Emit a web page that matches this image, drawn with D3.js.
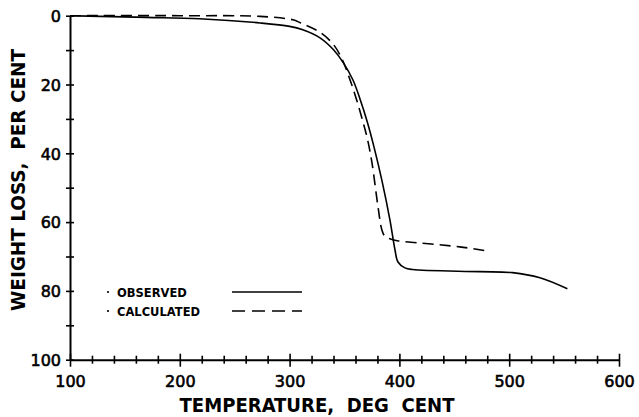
<!DOCTYPE html>
<html>
<head>
<meta charset="utf-8">
<script src="https://cdn.jsdelivr.net/npm/d3@7"></script>
<style>
  html, body { margin: 0; padding: 0; background: #fff; }
  svg { display: block; }
</style>
</head>
<body>
<svg id="chart" width="639" height="417"></svg>
<script>
// ---- Data ----
const observedTemp = [100, 127, 170, 218, 273, 300, 312, 328, 340, 349, 357.7, 364.1, 370.5, 376.9, 384.2, 391.4, 396, 398.7, 405, 412, 473, 503, 528, 553];
const observedLoss = [0, 0.2, 0.5, 0.9, 2.1, 3.1, 4.1, 6.5, 9.9, 13.7, 18.7, 24.2, 30.6, 38.2, 48.1, 59.4, 68.1, 71.6, 73.3, 73.8, 74.4, 74.7, 76.2, 79.4];
const calculatedTemp = [100, 200, 273, 303, 310, 328, 340, 348, 355, 361, 367, 371, 375, 380.5, 384, 387, 394, 398, 455, 478];
const calculatedLoss = [0, 0, 0.2, 1.2, 2.1, 4.9, 8.4, 12.8, 18.6, 24.4, 31.1, 36, 42.7, 55.5, 62.2, 64.2, 65.1, 65.4, 67.2, 68.3];
const xMajorTicks = [100, 200, 300, 400, 500, 600];
const xMinorTicks = [120, 140, 160, 180, 220, 240, 260, 280, 320, 340, 360, 380, 420, 440, 460, 480, 520, 540, 560, 580];
const yMajorTicks = [0, 20, 40, 60, 80, 100];
const yMinorTicks = [10, 30, 50, 70, 90];
const seriesNames = ["OBSERVED", "CALCULATED"];
const xTitle = "TEMPERATURE,  DEG  CENT";
const yTitle = "WEIGHT LOSS,  PER CENT";

// ---- Scales ----
const svg = d3.select("#chart");
const x = d3.scaleLinear().domain([100, 600]).range([70, 619]);
const y = d3.scaleLinear().domain([0, 100]).range([15.7, 359.7]);

const tickFont = "'DejaVu Sans', sans-serif";
const titleFont = "'DejaVu Sans Condensed', 'DejaVu Sans', sans-serif";

// ---- Y axis ----
const yAxisG = svg.append("g").attr("transform", `translate(${x(100)},0)`);
yAxisG.call(d3.axisLeft(y).tickValues(yMajorTicks).tickSizeOuter(0).tickSizeInner(4).tickFormat(d3.format("d")));
yAxisG.select(".domain").attr("stroke", "#000").attr("stroke-width", 2);
yAxisG.selectAll(".tick line").attr("x1", -4).attr("x2", 4).attr("stroke", "#000").attr("stroke-width", 1.6);
yAxisG.selectAll(".tick text")
  .attr("x", -9).attr("dy", "0.36em")
  .attr("font-family", tickFont).attr("font-size", 16).attr("fill", "#000")
  .attr("stroke", "#000").attr("stroke-width", 0.6);
const yMinorG = svg.append("g").attr("transform", `translate(${x(100)},0)`);
yMinorG.call(d3.axisLeft(y).tickValues(yMinorTicks).tickSizeOuter(0).tickSizeInner(4).tickFormat(""));
yMinorG.select(".domain").remove();
yMinorG.selectAll(".tick line").attr("x1", -4).attr("x2", 4).attr("stroke", "#000").attr("stroke-width", 1.6);

// ---- X axis ----
const xAxisG = svg.append("g").attr("transform", `translate(0,${y(100)})`);
xAxisG.call(d3.axisBottom(x).tickValues(xMajorTicks).tickSizeOuter(0).tickSizeInner(6).tickFormat(d3.format("d")));
xAxisG.select(".domain").attr("stroke", "#000").attr("stroke-width", 2);
xAxisG.selectAll(".tick line").attr("y1", -6).attr("y2", 7).attr("stroke", "#000").attr("stroke-width", 1.6);
xAxisG.selectAll(".tick text")
  .attr("y", 27).attr("dy", 0)
  .attr("font-family", tickFont).attr("font-size", 16).attr("fill", "#000")
  .attr("stroke", "#000").attr("stroke-width", 0.6);
const xMinorG = svg.append("g").attr("transform", `translate(0,${y(100)})`);
xMinorG.call(d3.axisBottom(x).tickValues(xMinorTicks).tickSizeOuter(0).tickSizeInner(4).tickFormat(""));
xMinorG.select(".domain").remove();
xMinorG.selectAll(".tick line").attr("y1", -4).attr("y2", 4).attr("stroke", "#000").attr("stroke-width", 1.6);

// ---- Axis titles ----
svg.append("text")
  .attr("x", 317).attr("y", 412)
  .attr("text-anchor", "middle")
  .attr("font-family", titleFont).attr("font-weight", "bold").attr("font-size", 19)
  .attr("textLength", 275).attr("lengthAdjust", "spacingAndGlyphs")
  .style("white-space", "pre")
  .text(xTitle);
svg.append("text")
  .attr("transform", "translate(25,180) rotate(-90)")
  .attr("text-anchor", "middle")
  .attr("font-family", titleFont).attr("font-weight", "bold").attr("font-size", 20)
  .attr("textLength", 262).attr("lengthAdjust", "spacingAndGlyphs")
  .style("white-space", "pre")
  .text(yTitle);

// ---- Lines ----
const line = d3.line().x(d => x(d[0])).y(d => y(d[1])).curve(d3.curveCatmullRom.alpha(0.5));
const obs = observedTemp.map((t, i) => [t, observedLoss[i]]);
const calc = calculatedTemp.map((t, i) => [t, calculatedLoss[i]]);
svg.append("path").datum(obs).attr("d", line)
  .attr("fill", "none").attr("stroke", "#000").attr("stroke-width", 1.6);
svg.append("path").datum(calc).attr("d", line)
  .attr("fill", "none").attr("stroke", "#000").attr("stroke-width", 1.6)
  .attr("stroke-dasharray", "11,6");

// ---- Legend ----
const legendY = [292, 311];
const dashes = [null, "13,7"];
seriesNames.forEach((name, i) => {
  svg.append("circle").attr("cx", 108).attr("cy", legendY[i]).attr("r", 1.1).attr("fill", "#000");
  svg.append("text")
    .attr("x", 117).attr("y", legendY[i] + 4.5)
    .attr("font-family", tickFont).attr("font-weight", "bold").attr("font-size", 11.5)
    .attr("fill", "#000")
    .text(name);
  const l = svg.append("line")
    .attr("x1", 232).attr("x2", 302).attr("y1", legendY[i]).attr("y2", legendY[i])
    .attr("stroke", "#000").attr("stroke-width", 1.6);
  if (dashes[i]) l.attr("stroke-dasharray", dashes[i]);
});
</script>
</body>
</html>
